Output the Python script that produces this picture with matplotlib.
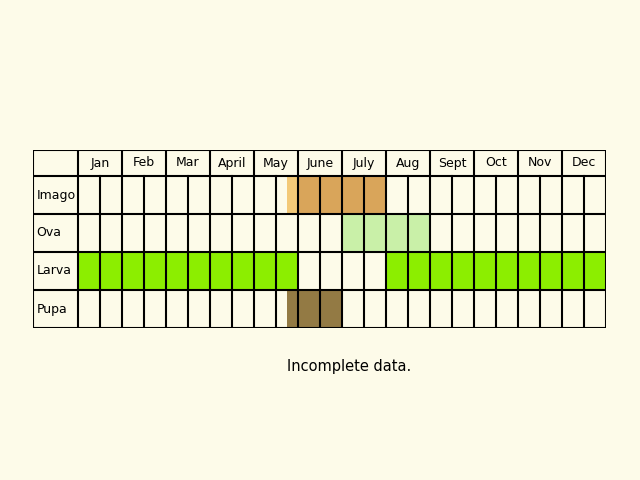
import matplotlib
matplotlib.use("Agg")
import matplotlib.pyplot as plt
from matplotlib.patches import Rectangle

months = ["Jan","Feb","Mar","Apr" if False else "April","May","June","July","Aug","Sept","Oct","Nov","Dec"]
stages = ["Imago","Ova","Larva","Pupa"]
# spans in half-month columns (start, end, color)
imago_spans = [(9.5, 10, "#F3C978"), (10, 14, "#D9A55A")]
ova_spans = [(12, 16, "#C9F0A8")]
larva_spans = [(0, 10, "#8CEE00"), (14, 24, "#8CEE00")]
pupa_spans = [(9.5, 12, "#937A44")]
spans = [imago_spans, ova_spans, larva_spans, pupa_spans]

bg = "#FDFBE9"
fig = plt.figure(figsize=(6.4, 4.8), dpi=100, facecolor=bg)
ax = fig.add_axes([33/640, 1-328/480, (606-33)/640, 178/480])
ax.set_facecolor(bg)
lab = 45/22
hdr = 26/38
ax.set_xlim(-lab, 24)
ax.set_ylim(4 + hdr, 0)
ax.axis("off")

# row y: header from 0..hdr, stage i from hdr+i to hdr+i+1
for i, sp in enumerate(spans):
    for s, e, c in sp:
        ax.add_patch(Rectangle((s, hdr+i), e-s, 1, facecolor=c, edgecolor="none"))
    ax.text(-lab+0.15, hdr+i+0.5, stages[i], va="center", ha="left", fontsize=9)
for j, m in enumerate(months):
    ax.text(2*j+1, hdr/2, m, ha="center", va="center", fontsize=9)

lw = 1.5
ys = [0, hdr] + [hdr+i+1 for i in range(4)]
for y in ys:
    ax.plot([-lab, 24], [y, y], color="black", lw=lw, solid_capstyle="projecting")
ax.plot([-lab, -lab], [0, 4+hdr], color="black", lw=lw)
for x in range(25):
    if x % 2 == 0:
        ax.plot([x, x], [0, 4+hdr], color="black", lw=lw)
    else:
        ax.plot([x, x], [hdr, 4+hdr], color="black", lw=lw)

fig.text(349/640, 1-366/480, "Incomplete data.", ha="center", va="center", fontsize=10.5)
fig.savefig("out.png", dpi=100, facecolor=bg)
